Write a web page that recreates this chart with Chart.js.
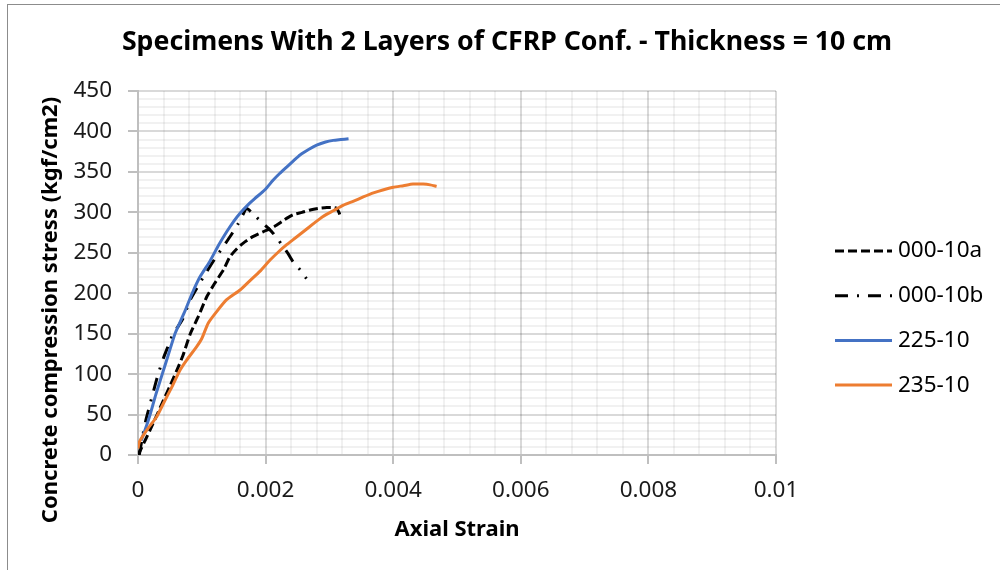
<!DOCTYPE html>
<html>
<head>
<meta charset="utf-8">
<title>Specimens With 2 Layers of CFRP Conf. - Thickness = 10 cm</title>
<script src="https://cdn.jsdelivr.net/npm/chart.js@4.4.0/dist/chart.umd.min.js"></script>
<style>
  html, body { margin: 0; padding: 0; background: #fff; }
  #wrap { position: relative; width: 1000px; height: 570px; overflow: hidden; }
  #chart { display: block; }
  #frame { position: absolute; left: 7px; top: 4px; width: 1000px; height: 600px;
           border-left: 1px solid #8c8c8c; border-top: 1px solid #8c8c8c; pointer-events: none; }
</style>
</head>
<body>
<div id="wrap">
  <canvas id="chart" width="1000" height="570"></canvas>
  <div id="frame"></div>
</div>
<script>
const FONT = "'Noto Sans', 'DejaVu Sans', sans-serif";

const chartTitle = 'Specimens With 2 Layers of CFRP Conf. - Thickness = 10 cm';
const xTitle = 'Axial Strain';
const yTitle = 'Concrete compression stress (kgf/cm2)';

const seriesNames = ['000-10a', '000-10b', '225-10', '235-10'];

// tick labels (major)
const xTickLabels = ['0', '0.002', '0.004', '0.006', '0.008', '0.01'];
const yTickLabels = ['0', '50', '100', '150', '200', '250', '300', '350', '400', '450'];

// 000-10a
const strain10a = [0, 0.00005, 0.00019, 0.0003, 0.0004, 0.0005, 0.00061, 0.0007, 0.00082, 0.00095,
  0.00108, 0.0012, 0.00134, 0.00144, 0.00155, 0.00165, 0.0018, 0.00196, 0.00208, 0.00217,
  0.0023, 0.00243, 0.00257, 0.0027, 0.00283, 0.00296, 0.00305, 0.00311, 0.00315, 0.00318];
const stress10a = [0, 8, 31, 50, 68, 85, 105, 122, 150, 172,
  196, 212, 229, 245, 255, 262, 270, 276, 280, 284,
  291, 297, 300, 303, 305, 306, 306, 305, 300, 293];

// 000-10b
const strain10b = [0.00002, 0.00006, 0.00012, 0.0002, 0.00026, 0.00032, 0.0004, 0.00048, 0.00055, 0.00062,
  0.0007, 0.00082, 0.00095, 0.00108, 0.0012, 0.00134, 0.00146, 0.00157, 0.00165, 0.0017,
  0.00178, 0.00191, 0.00202, 0.00212, 0.0022, 0.00228, 0.00236, 0.00243, 0.00254, 0.00264];
const stress10b = [0, 18, 42, 66, 84, 101, 120, 136, 150, 158,
  168, 192, 210, 227, 242, 258, 272, 286, 298, 305,
  300, 290, 282, 274, 266, 257, 248, 239, 229, 218];

// 225-10
const strain225 = [0.00005, 0.00012, 0.00019, 0.00028, 0.00038, 0.00048, 0.00058, 0.00072, 0.00085, 0.00097,
  0.00113, 0.00126, 0.00139, 0.0015, 0.0016, 0.00172, 0.00183, 0.00199, 0.00212, 0.00222,
  0.00233, 0.00244, 0.00254, 0.00268, 0.0028, 0.00294, 0.00306, 0.00318, 0.0033];
const stress225 = [18, 33, 50, 75, 100, 125, 150, 175, 200, 220,
  240, 259, 276, 289, 299, 309, 317, 328, 340, 348,
  356, 364, 371, 378, 383, 387, 389, 390, 391];

// 235-10
const strain235 = [0, 0.00002, 0.00014, 0.00029, 0.0004, 0.00053, 0.00066, 0.00076, 0.00092, 0.001,
  0.0011, 0.00123, 0.00139, 0.0016, 0.00176, 0.00191, 0.00207, 0.0022, 0.00233, 0.00246,
  0.00259, 0.00275, 0.0029, 0.00306, 0.00322, 0.00338, 0.00353, 0.00369, 0.00385, 0.004,
  0.00416, 0.00431, 0.00447, 0.00458, 0.00468];
const stress235 = [8, 16, 31, 47, 64, 84, 105, 117, 134, 144,
  163, 177, 192, 204, 216, 227, 241, 251, 260, 268,
  276, 286, 295, 302, 309, 314, 319, 324, 328, 331,
  333, 335, 335, 334, 332];

const X_MAJOR = 0.002;
const Y_MAJOR = 50;

function toPoints(xs, ys) {
  return xs.map((x, i) => ({ x: x, y: ys[i] }));
}

function majorIndex(value, step) {
  const idx = Math.round(value / step);
  return Math.abs(value - idx * step) < step * 1e-6 ? idx : -1;
}

const MAJOR_GRID = 'rgba(0,0,0,0.15)';
const MINOR_GRID = 'rgba(0,0,0,0.055)';
const AXIS_COLOR = '#bfbfbf';

const lineBase = { pointRadius: 0, borderWidth: 3, tension: 0.2, fill: false, borderCapStyle: 'butt' };

const datasets = [
  Object.assign({}, lineBase, { label: seriesNames[0], data: toPoints(strain10a, stress10a), borderColor: '#000000', borderDash: [9, 4], order: 3 }),
  Object.assign({}, lineBase, { label: seriesNames[1], data: toPoints(strain10b, stress10b), borderColor: '#000000', borderDash: [13, 9, 2, 9], order: 2 }),
  Object.assign({}, lineBase, { label: seriesNames[2], data: toPoints(strain225, stress225), borderColor: '#4472C4', order: 1 }),
  Object.assign({}, lineBase, { label: seriesNames[3], data: toPoints(strain235, stress235), borderColor: '#ED7D31', order: 0 })
];

// y axis title and legend drawn beside the plot
const extrasPlugin = {
  id: 'extras',
  afterDraw(chart) {
    const ctx = chart.ctx;
    const area = chart.chartArea;

    ctx.save();
    ctx.translate(51, 310);
    ctx.rotate(-Math.PI / 2);
    ctx.font = 'bold 22px ' + FONT;
    ctx.fillStyle = '#000';
    ctx.textAlign = 'center';
    ctx.textBaseline = 'middle';
    ctx.fillText(yTitle, 0, 0);
    ctx.restore();

    ctx.save();
    ctx.font = '22.5px ' + FONT;
    ctx.textBaseline = 'middle';
    ctx.textAlign = 'left';
    chart.data.datasets.forEach((ds, i) => {
      const y = 251 + i * 44.7;
      ctx.beginPath();
      ctx.setLineDash(ds.borderDash || []);
      ctx.lineWidth = ds.borderWidth;
      ctx.strokeStyle = ds.borderColor;
      ctx.moveTo(area.right + 59, y);
      ctx.lineTo(area.right + 116, y);
      ctx.stroke();
      ctx.setLineDash([]);
      ctx.fillStyle = '#000';
      ctx.fillText(ds.label, area.right + 122, y);
    });
    ctx.restore();
  }
};

new Chart(document.getElementById('chart').getContext('2d'), {
  type: 'line',
  data: { datasets: datasets },
  plugins: [extrasPlugin],
  options: {
    responsive: false,
    animation: false,
    layout: { padding: { left: 14, right: 0, top: 0, bottom: 0 } },
    plugins: {
      legend: { display: false },
      tooltip: { enabled: false },
      title: {
        display: true,
        text: chartTitle,
        color: '#000',
        font: { family: FONT, size: 26.7, weight: 'bold' },
        padding: { top: 26, bottom: 33 }
      }
    },
    scales: {
      x: {
        type: 'linear',
        min: 0,
        max: 0.01,
        afterFit: s => { s.height = 115; },
        ticks: {
          stepSize: 0.0004,
          autoSkip: false,
          maxRotation: 0,
          minRotation: 0,
          padding: 13.5,
          color: '#1a1a1a',
          font: { family: FONT, size: 22.5 },
          callback: v => { const i = majorIndex(v, X_MAJOR); return i >= 0 ? xTickLabels[i] : ''; }
        },
        grid: {
          color: c => majorIndex(c.tick.value, X_MAJOR) >= 0 ? MAJOR_GRID : MINOR_GRID,
          lineWidth: 2,
          tickLength: 9,
          tickColor: c => majorIndex(c.tick.value, X_MAJOR) >= 0 ? AXIS_COLOR : 'rgba(0,0,0,0)'
        },
        border: { display: true, color: AXIS_COLOR, width: 2 },
        title: {
          display: true,
          text: xTitle,
          color: '#000',
          font: { family: FONT, size: 22, weight: 'bold' },
          padding: { top: 0, bottom: 27 }
        }
      },
      y: {
        type: 'linear',
        min: 0,
        max: 450,
        afterFit: s => { s.width = 124; },
        ticks: {
          stepSize: 10,
          autoSkip: false,
          padding: 16,
          color: '#1a1a1a',
          font: { family: FONT, size: 22.5 },
          callback: v => { const i = majorIndex(v, Y_MAJOR); return i >= 0 ? yTickLabels[i] : ''; }
        },
        grid: {
          color: c => majorIndex(c.tick.value, Y_MAJOR) >= 0 ? MAJOR_GRID : MINOR_GRID,
          lineWidth: 2,
          tickLength: 10,
          tickColor: c => majorIndex(c.tick.value, Y_MAJOR) >= 0 ? AXIS_COLOR : 'rgba(0,0,0,0)'
        },
        border: { display: true, color: AXIS_COLOR, width: 2 }
      },
      // keeps room on the right for the legend
      spacer: {
        type: 'linear',
        position: 'right',
        afterFit: s => { s.width = 224; },
        ticks: { display: false },
        grid: { display: false },
        border: { display: false }
      }
    }
  }
});
</script>
</body>
</html>
